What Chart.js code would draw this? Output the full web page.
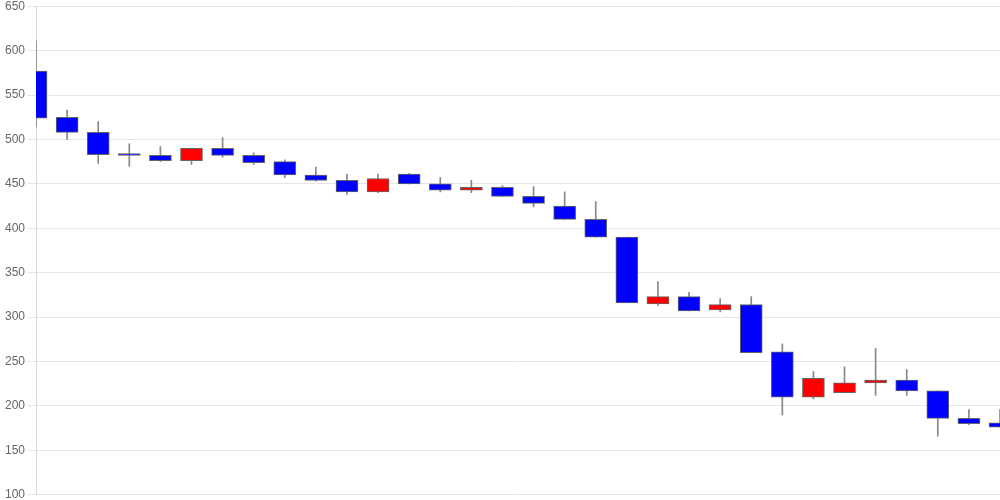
<!DOCTYPE html>
<html>
<head>
<meta charset="utf-8">
<script src="https://cdn.jsdelivr.net/npm/chart.js@4/dist/chart.umd.min.js"></script>
<style>
  html, body { margin: 0; padding: 0; background: #fff; overflow: hidden; }
  #wrap { width: 1000px; height: 509px; margin-top: -4px; }
</style>
</head>
<body>
<div id="wrap"><canvas id="candles"></canvas></div>
<script>
// Kerzen-Daten
const days = ["1","2","3","4","5","6","7","8","9","10","11","12","13","14","15","16",
              "17","18","19","20","21","22","23","24","25","26","27","28","29","30","31","32"];
const opens  = [577, 525, 508, 484, 482, 476, 490, 482, 475, 460, 454, 441, 461, 450, 443, 446,
                436, 425, 410, 390, 315, 323, 308, 314, 261, 210, 215, 226, 229, 217, 186, 181];
const closes = [524, 508, 483, 482, 476, 490, 482, 474, 460, 454, 441, 456, 450, 443, 446, 436,
                428, 410, 390, 316, 323, 307, 314, 260, 210, 231, 226, 229, 217, 186, 180, 176];
const highs  = [611, 533, 520, 495, 492, 490, 502, 485, 477, 469, 461, 461, 462, 457, 454, 448,
                447, 441, 430, 390, 340, 328, 321, 323, 270, 239, 244, 265, 241, 217, 196, 196];
const lows   = [514, 500, 473, 470, 475, 472, 480, 472, 457, 453, 438, 440, 450, 441, 440, 436,
                424, 410, 390, 316, 313, 307, 306, 260, 190, 208, 215, 212, 212, 166, 179, 176];
const yTicks = { min: 100, max: 650, step: 50 };

const UP = "#ff0000";
const DOWN = "#0000ff";

const bodies = opens.map((o, i) => [Math.min(o, closes[i]), Math.max(o, closes[i])]);
const wicks = lows.map((l, i) => [l, highs[i]]);
const bodyColors = opens.map((o, i) => closes[i] > o ? UP : DOWN);

const ctx = document.getElementById("candles").getContext("2d");
new Chart(ctx, {
  type: "bar",
  data: {
    labels: days,
    datasets: [
      {
        label: "Body",
        data: bodies,
        backgroundColor: bodyColors,
        borderColor: "#666",
        borderWidth: 1,
        borderSkipped: false,
        barThickness: 22,
        grouped: false,
        order: 1
      },
      {
        label: "Wick",
        data: wicks,
        backgroundColor: "#888",
        borderWidth: 0,
        barThickness: 1,
        grouped: false,
        order: 2
      }
    ]
  },
  options: {
    animation: false,
    responsive: true,
    maintainAspectRatio: false,
    layout: { padding: { left: 2 } },
    plugins: {
      legend: { display: false },
      tooltip: { enabled: false }
    },
    scales: {
      x: {
        display: false,
        offset: false
      },
      y: {
        min: yTicks.min,
        max: yTicks.max,
        ticks: {
          stepSize: yTicks.step,
          color: "#666",
          font: { size: 12 }
        },
        grid: { color: "rgba(0,0,0,0.1)" },
        border: { color: "rgba(0,0,0,0.15)" }
      }
    }
  }
});
</script>
</body>
</html>
